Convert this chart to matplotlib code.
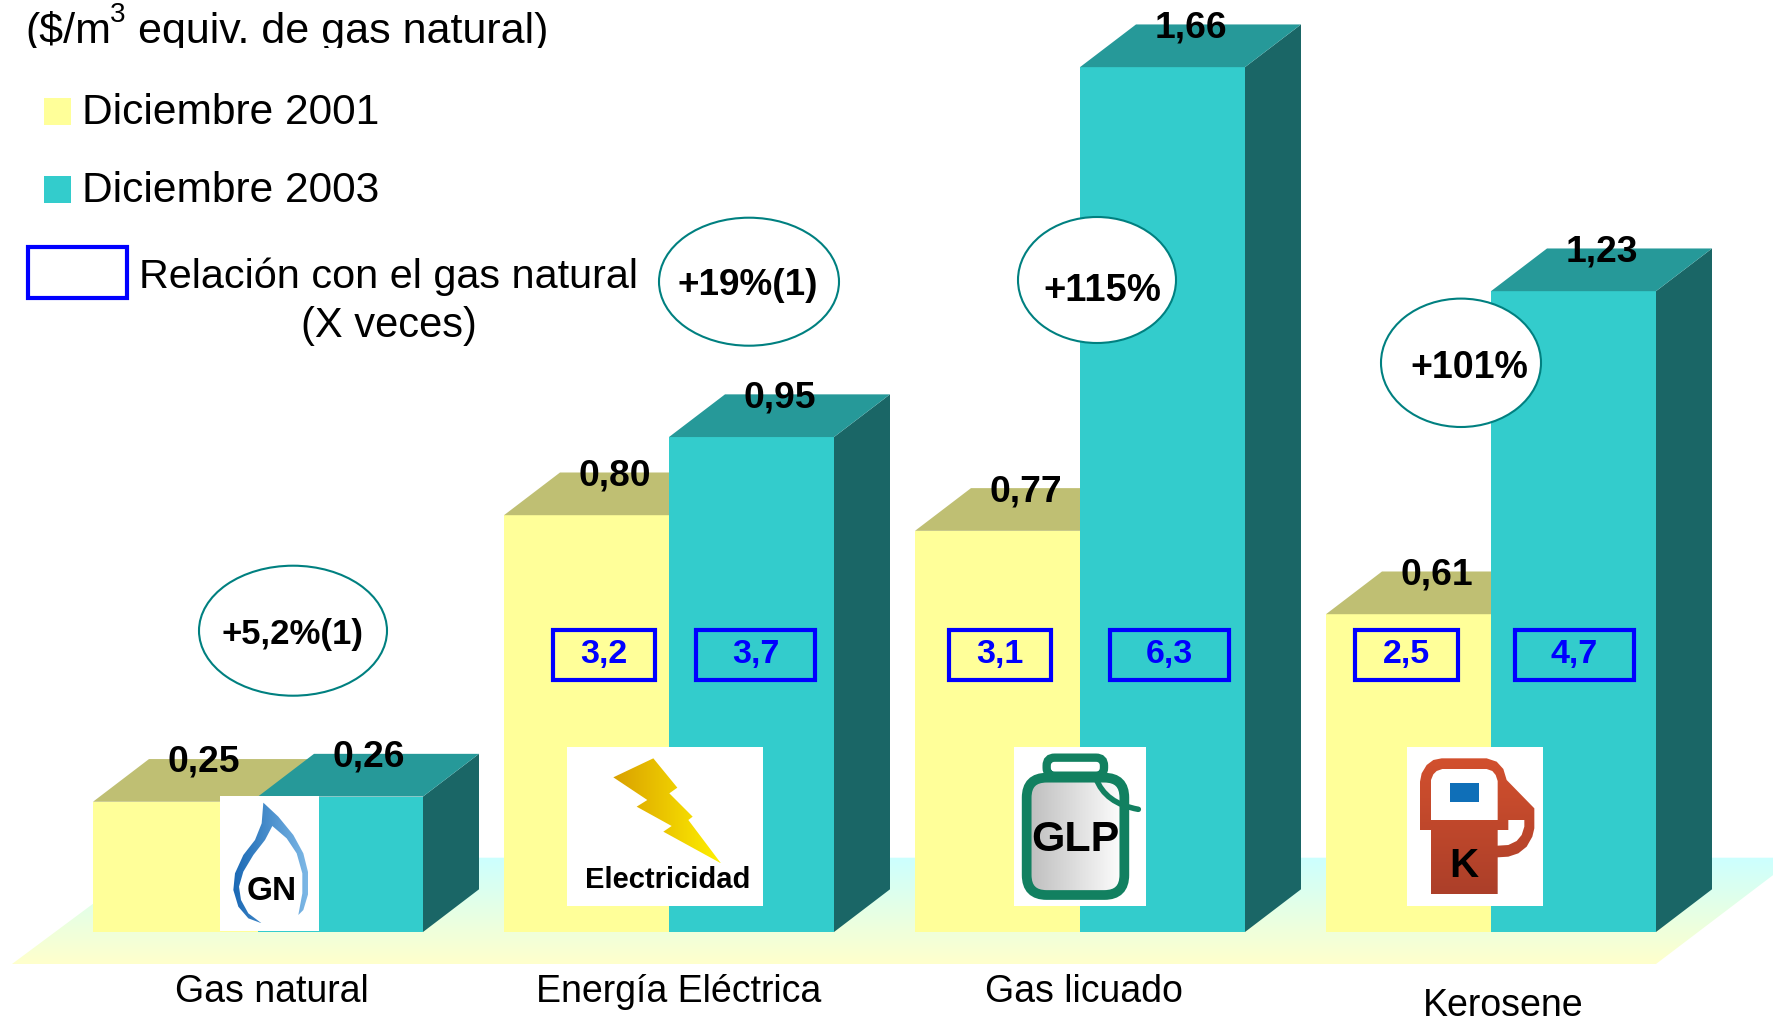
import matplotlib
matplotlib.use("Agg")
import matplotlib.pyplot as plt
import numpy as np
from matplotlib.patches import Polygon, Rectangle, Ellipse, FancyBboxPatch, PathPatch
from matplotlib.path import Path
from matplotlib.transforms import Affine2D, Bbox

plt.rcParams['font.family'] = ['Liberation Sans', 'DejaVu Sans']

# datos
categorias = ["Gas natural", "Energía Eléctrica", "Gas licuado", "Kerosene"]
dic_2001 = [0.25, 0.80, 0.77, 0.61]
dic_2003 = [0.26, 0.95, 1.66, 1.23]
variacion = ["+5,2%(1)", "+19%(1)", "+115%", "+101%"]
relacion_2001 = ["", "3,2", "3,1", "2,5"]
relacion_2003 = ["", "3,7", "6,3", "4,7"]

AMARILLO = "#FFFF99"
TURQUESA = "#33CCCC"
TECHO_AMA = "#BFBF73"
TECHO_TUR = "#269999"
LADO_TUR = "#1A6666"
AZUL = "#0000FF"
VERDE = "#128060"

W, H = 1773, 1018
fig = plt.figure(figsize=(W / 100, H / 100), dpi=100)
ax = fig.add_axes([0, 0, 1, 1])
ax.axis("off")

# escala: 411 px entre grupos, 521 px por unidad ($/m3)
esc_x, esc_y = 411.0, 521.0
x0_px, y0_px = 258.0, 932.0
ancho = 165 / esc_x
prof_x = 56 / esc_x
prof_y = 42.7 / esc_y

# transformación en pixeles con origen arriba a la izquierda
px = Affine2D().scale(1, -1).translate(0, H)


def gradiente(verts, c0, c1, z, vertical=False):
    # relleno degradado recortado al polígono
    verts = np.array(verts, dtype=float)
    c0 = np.array(matplotlib.colors.to_rgb(c0))
    c1 = np.array(matplotlib.colors.to_rgb(c1))
    t = np.linspace(0, 1, 128)
    g = c0[None, :] * (1 - t[:, None]) + c1[None, :] * t[:, None]
    g = g[:, None, :] if vertical else g[None, :, :]
    xa, xb = verts[:, 0].min(), verts[:, 0].max()
    ya, yb = verts[:, 1].min(), verts[:, 1].max()
    im = ax.imshow(g, extent=(xa, xb, yb, ya), transform=px + ax.transAxes.inverted() + ax.transAxes,
                   aspect="auto", zorder=z, interpolation="bilinear")
    im.set_clip_path(Polygon(verts, closed=True, transform=px))
    return im


def crop(pts, ox, oy):
    # pasar de coordenadas del recorte (x3) a pixeles
    return np.array(pts, dtype=float) / 3 + [ox, oy]


def texto(x, y, s, size, weight="normal", color="black", ha="center", z=20):
    return ax.text(x, y, s, fontsize=size, fontweight=weight, color=color, ha=ha, va="baseline",
                   transform=px, zorder=z)


# piso
piso = [(12, 964), (1656, 964), (1796, 857.7), (155, 857.7)]
gradiente(piso, "#CCFFFF", "#FFFFCC", 1, vertical=True)

# barras
xs = np.arange(len(categorias))
for i in xs:
    for xb, v, frente, techo in ((i - ancho, dic_2001[i], AMARILLO, TECHO_AMA),
                                 (i, dic_2003[i], TURQUESA, TECHO_TUR)):
        z = 3 + 2 * (xb >= i)
        ax.bar(xb, v, ancho, align="edge", color=frente, linewidth=0, zorder=z)
        ax.add_patch(Polygon([(xb, v), (xb + ancho, v), (xb + ancho + prof_x, v + prof_y), (xb + prof_x, v + prof_y)],
                             closed=True, facecolor=techo, edgecolor="none", zorder=z))
        ax.add_patch(Polygon([(xb + ancho, 0), (xb + ancho + prof_x, prof_y), (xb + ancho + prof_x, v + prof_y), (xb + ancho, v)],
                             closed=True, facecolor=LADO_TUR, edgecolor="none", zorder=z - 1))
        ax.annotate(f"{v:.2f}".replace(".", ","), (xb + (ancho + prof_x) / 2, v + prof_y),
                    xytext=(0, -9.3), textcoords="offset points", ha="center", va="baseline",
                    fontsize=26.8, fontweight="bold", zorder=20)

# categorias
cat_x = [271.6, 679, 1084.4, 1502.7]
cat_y = [1001.7, 1001.7, 1001.7, 1016]
for s, x, y in zip(categorias, cat_x, cat_y):
    texto(x, y, s, 27)

# elipses de variación
elipses = [(293, 630.7, 188, 130), (749, 281.7, 180, 128), (1097, 280, 158, 126), (1461, 362.8, 160, 128.4)]
var_pos = [(292.6, 644), (747.7, 295), (1102, 301), (1469.4, 378)]
var_tam = [25, 26.6, 27.5, 27]
for (cx, cy, w, h), s, (tx, ty), tam in zip(elipses, variacion, var_pos, var_tam):
    ax.add_patch(Ellipse((cx, cy), w, h, facecolor="white", edgecolor="#008080", linewidth=1.5,
                         transform=px, zorder=10))
    texto(tx, ty, s, tam, weight="bold")

# cajas de relación
cajas_2001 = [None, (550.5, 657), (946.6, 1053), (1353, 1459.7)]
cajas_2003 = [None, (694, 817), (1107.8, 1231.4), (1512.7, 1635.7)]
for cajas, rel in ((cajas_2001, relacion_2001), (cajas_2003, relacion_2003)):
    for c, s in zip(cajas, rel):
        if c is None:
            continue
        ax.add_patch(Rectangle((c[0] + 2, 630), c[1] - c[0] - 4, 49.5, facecolor="none", edgecolor=AZUL,
                               linewidth=3, transform=px, zorder=12))
        texto((c[0] + c[1]) / 2, 662.5, s, 24.5, weight="bold", color=AZUL)

# leyenda
ax.add_patch(Rectangle((44, 98), 27, 27, facecolor=AMARILLO, edgecolor="none", transform=px, zorder=12))
ax.add_patch(Rectangle((44, 176), 27, 27, facecolor=TURQUESA, edgecolor="none", transform=px, zorder=12))
ax.add_patch(Rectangle((28, 247), 99, 50.5, facecolor="none", edgecolor=AZUL, linewidth=3, transform=px, zorder=12))
texto(81.5, 124, "Diciembre 2001", 30.6, ha="left")
texto(81.5, 202, "Diciembre 2003", 30.6, ha="left")
texto(139, 288.5, "Relación con el gas natural", 29.8, ha="left")
texto(389, 337.5, "(X veces)", 30)

# título, cortado abajo como en el original
corte = Bbox([[0, H - 47.5], [W, H]])
for t in (texto(25.5, 43.5, "($/m", 31, ha="left"),
          texto(138.5, 43.5, "equiv. de gas natural)", 31, ha="left")):
    t.set_clip_box(corte)
    t.set_clip_on(True)
texto(110, 22, "3", 20, ha="left")

# icono GN
ax.add_patch(Rectangle((220, 796), 99, 134.7, facecolor="white", edgecolor="none", transform=px, zorder=14))
llama = crop([(145, 38), (190, 80), (235, 135), (265, 190), (280, 250), (280, 310), (265, 360), (250, 375),
              (262, 310), (262, 250), (245, 190), (215, 145), (172, 108), (150, 150), (115, 195), (85, 245),
              (72, 290), (78, 330), (100, 370), (140, 400), (100, 385), (70, 350), (55, 300), (60, 250),
              (85, 195), (120, 150), (140, 100)], 215, 790)
gradiente(llama, "#1A68B4", "#7DB8E6", 15)
texto(272, 900, "GN", 24, weight="bold", z=16)

# icono electricidad
ax.add_patch(Rectangle((566.8, 747), 196.2, 158.7, facecolor="white", edgecolor="none", transform=px, zorder=14))
rayo = crop([(280, 40), (352, 128), (328, 145), (398, 215), (385, 225), (483, 355), (310, 260), (335, 243),
             (230, 185), (262, 165), (160, 97)], 560, 745)
gradiente(rayo, "#D9A000", "#FFF000", 15)
texto(668, 887.5, "Electricidad", 21, weight="bold", z=16)

# icono GLP
ax.add_patch(Rectangle((1013.8, 747), 132.2, 158.7, facecolor="white", edgecolor="none", transform=px, zorder=14))
x_c, y_c = crop([(50, 98)], 1010, 745)[0]
x_d, y_d = crop([(343, 450)], 1010, 745)[0]
cuerpo = FancyBboxPatch((x_c, y_c), x_d - x_c, y_d - y_c, boxstyle="round,pad=0,rounding_size=20",
                        facecolor="none", edgecolor=VERDE, linewidth=7, transform=px, zorder=16)
ax.add_patch(cuerpo)
gradiente([(x_c, y_c), (x_d, y_c), (x_d, y_d), (x_c, y_d)], "#BDBDBD", "#FFFFFF", 15).set_clip_path(cuerpo)
xa, ya = crop([(110, 38)], 1010, 745)[0]
xb, yb = crop([(282, 92)], 1010, 745)[0]
ax.add_patch(FancyBboxPatch((xa, ya), xb - xa, yb - ya, boxstyle="round,pad=0,rounding_size=8",
                            facecolor="white", edgecolor=VERDE, linewidth=6, transform=px, zorder=16))
ax.add_patch(PathPatch(Path(crop([(258, 100), (285, 175), (385, 193)], 1010, 745), [Path.MOVETO, Path.CURVE3, Path.CURVE3]),
                       facecolor="none", edgecolor=VERDE, linewidth=4, capstyle="round", transform=px, zorder=17))
texto(1075, 851, "GLP", 31, weight="bold", z=18)

# icono K
ax.add_patch(Rectangle((1407, 747), 136, 158.7, facecolor="white", edgecolor="none", transform=px, zorder=14))
surtidor = crop([(45, 255), (45, 110), (50, 85), (65, 60), (85, 45), (110, 40), (245, 40), (275, 50), (295, 72), (305, 105),
                 (388, 190), (388, 250), (382, 275), (365, 305), (340, 325), (310, 335), (278, 337),
                 (278, 448), (78, 448), (78, 255)], 1405, 745)
gradiente(surtidor, "#D2502E", "#AC3F29", 15, vertical=True)
hueco = crop([(278, 302), (310, 300), (335, 288), (350, 270), (358, 245), (358, 225), (310, 225), (310, 255), (278, 255)], 1405, 745)
ax.add_patch(Polygon(hueco, closed=True, facecolor="white", edgecolor="none", transform=px, zorder=16))
ventana = crop([(78, 225), (78, 105), (85, 88), (95, 78), (112, 72), (245, 72), (262, 78), (272, 90), (278, 108), (278, 225)], 1405, 745)
ax.add_patch(Polygon(ventana, closed=True, facecolor="white", edgecolor="none", transform=px, zorder=16))
ax.add_patch(Rectangle((1405 + 45, 745 + 38.3), 29, 18.3, facecolor="#0F6FB8", edgecolor="none", transform=px, zorder=17))
texto(1464, 877.2, "K", 29, weight="bold", z=18)

ax.set_xlim(-x0_px / esc_x, (W - x0_px) / esc_x)
ax.set_ylim((y0_px - H) / esc_y, y0_px / esc_y)

fig.savefig("out.png", dpi=100, facecolor="white")
